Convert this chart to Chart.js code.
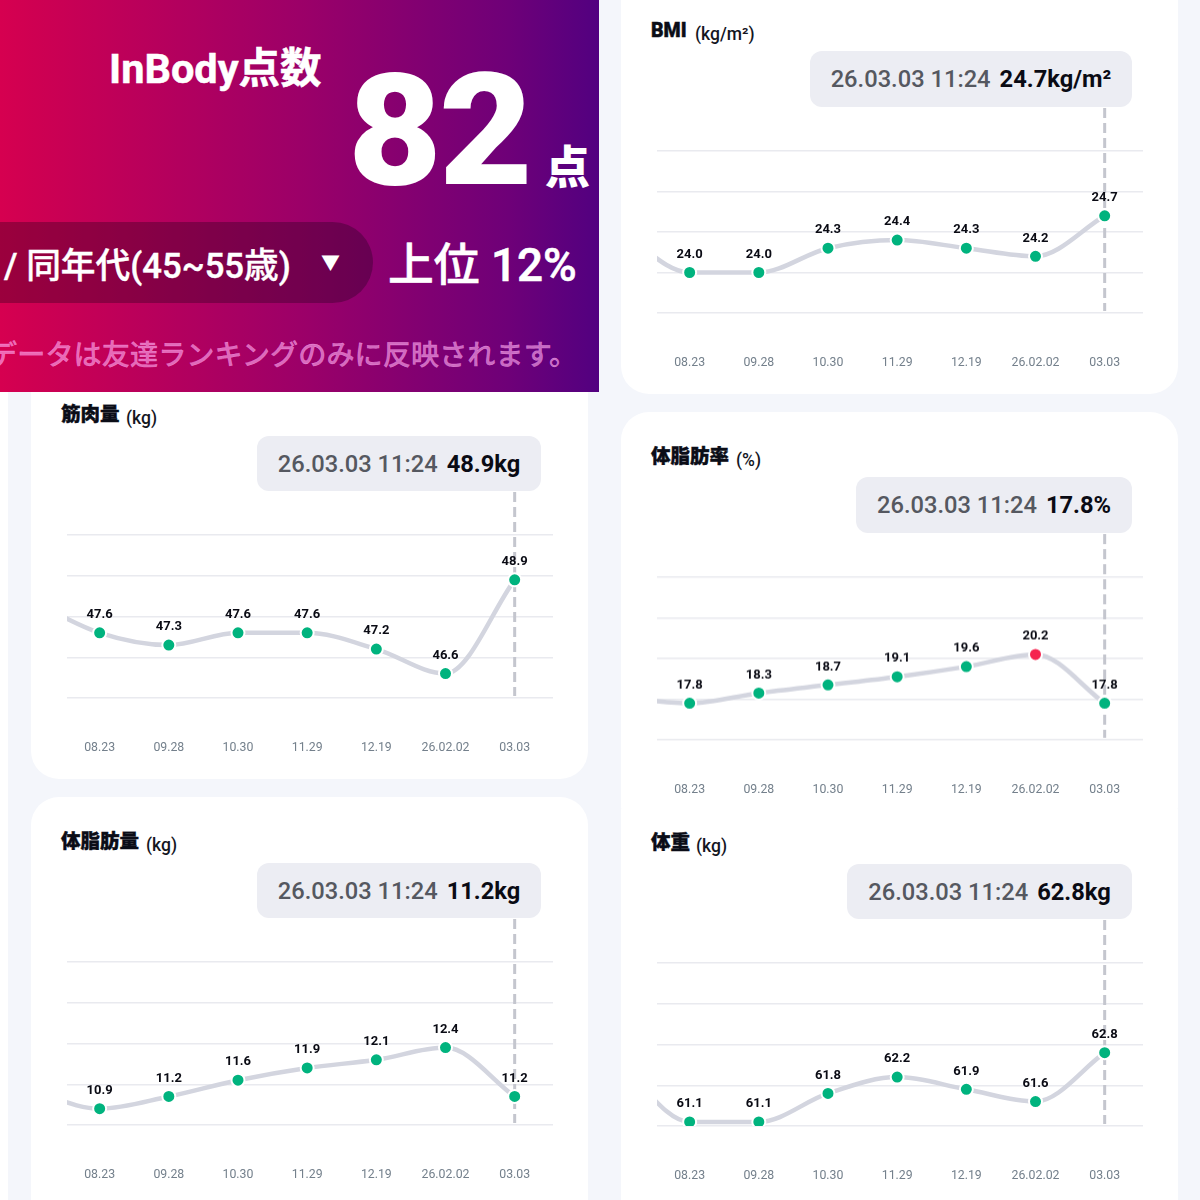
<!DOCTYPE html>
<html lang="ja"><head><meta charset="utf-8">
<script src="https://cdn.jsdelivr.net/npm/chart.js@4"></script>
<style>
html,body{margin:0;padding:0;background:#fff}
body{width:1200px;height:1200px;overflow:hidden;position:relative;font-family:Roboto,"Noto Sans CJK JP",sans-serif}
#bg{position:absolute;left:8px;top:0;width:1192px;height:1200px;background:#f4f6fb}
.card{position:absolute;background:#fff;border-radius:28px}
.t{position:absolute;white-space:nowrap;line-height:1}
#banner{position:absolute;left:0;top:0;width:599px;height:392px;background:linear-gradient(90deg,#d60050 0%,#ce0052 6%,#9c0068 50%,#6e0078 85%,#520080 100%);overflow:hidden;color:#fff;font-family:Roboto,"Noto Sans CJK JP",sans-serif}
#pill{position:absolute;left:-100px;top:222px;width:473px;height:81px;border-radius:41px;background:rgba(20,0,20,.3)}
.title{font-weight:900;font-size:19.5px;color:#0b0d17;-webkit-text-stroke:.4px #0b0d17}
.unit{font-weight:500;font-size:17.5px;color:#14161f}
.tip{position:absolute;background:#ecedf3;border-radius:12px;display:flex;align-items:center;justify-content:center;font-size:23.7px;gap:9px;white-space:nowrap}
.tip .d{color:#555860;font-weight:500}
.tip .v{color:#0a0b14;font-weight:700}
canvas{position:absolute}
</style></head><body>
<div id="bg"></div>
<div class="card" style="left:621px;top:-40px;width:557px;height:434px"></div>
<div class="card" style="left:31px;top:340px;width:557px;height:439px"></div>
<div class="card" style="left:621px;top:412px;width:557px;height:396px;border-radius:28px 28px 0 0"></div>
<div class="card" style="left:31px;top:797px;width:557px;height:450px"></div>
<div class="card" style="left:621px;top:804px;width:557px;height:450px;border-radius:6px 6px 0 0"></div>

<div id="banner">
  <div class="t" style="left:109px;top:48px;font-size:41.5px;font-weight:700;-webkit-text-stroke:.5px #fff">InBody点数</div>
  <div class="t" style="left:348px;top:50px;font-size:162px;font-weight:900;letter-spacing:-3px;transform:scaleY(.96);transform-origin:0 80px">82</div>
  <div class="t" style="left:545px;top:146px;font-size:45px;font-weight:900">点</div>
  <div id="pill"></div>
  <div class="t" style="left:4px;top:249px;font-size:34.7px;font-weight:500;-webkit-text-stroke:.4px #fff">/ 同年代(45~55歳)</div>
  <div class="t" style="left:321px;top:254px;font-size:19px;font-weight:500">▼</div>
  <div class="t" style="left:388px;top:243px;font-size:45.8px;font-weight:500;-webkit-text-stroke:.6px #fff">上位 12%</div>
  <div class="t" style="left:-11px;top:342px;font-size:28.2px;font-weight:500;color:rgba(255,170,240,.65);-webkit-text-stroke:.3px rgba(255,170,240,.65)">データは友達ランキングのみに反映されます。</div>
</div>

<div class="t title" style="left:651px;top:21px">BMI</div><div class="t unit" style="left:695px;top:26px">(kg/m²)</div>
<div class="t title" style="left:61px;top:405px">筋肉量</div><div class="t unit" style="left:126px;top:410px">(kg)</div>
<div class="t title" style="left:651px;top:447px">体脂肪率</div><div class="t unit" style="left:736px;top:452px">(%)</div>
<div class="t title" style="left:61px;top:832px">体脂肪量</div><div class="t unit" style="left:146px;top:837px">(kg)</div>
<div class="t title" style="left:651px;top:833px">体重</div><div class="t unit" style="left:696px;top:838px">(kg)</div>

<div class="tip" style="left:810px;top:51px;width:322px;height:56px"><span class="d">26.03.03 11:24</span><span class="v">24.7kg/m²</span></div>
<div class="tip" style="left:257px;top:436px;width:284px;height:55px"><span class="d">26.03.03 11:24</span><span class="v">48.9kg</span></div>
<div class="tip" style="left:856px;top:477px;width:276px;height:56px"><span class="d">26.03.03 11:24</span><span class="v">17.8%</span></div>
<div class="tip" style="left:257px;top:863px;width:284px;height:55px"><span class="d">26.03.03 11:24</span><span class="v">11.2kg</span></div>
<div class="tip" style="left:847px;top:864px;width:285px;height:55px"><span class="d">26.03.03 11:24</span><span class="v">62.8kg</span></div>

<canvas id="cBmi"></canvas><canvas id="cMuscle"></canvas><canvas id="cPct"></canvas><canvas id="cMass"></canvas><canvas id="cWeight"></canvas>
<script>
const categories = ['08.23','09.28','10.30','11.29','12.19','26.02.02','03.03'];

const bmiValues    = [24.0,24.0,24.3,24.4,24.3,24.2,24.7];
const muscleValues = [47.6,47.3,47.6,47.6,47.2,46.6,48.9];
const pctValues    = [17.8,18.3,18.7,19.1,19.6,20.2,17.8];
const massValues   = [10.9,11.2,11.6,11.9,12.1,12.4,11.2];
const weightValues = [61.1,61.1,61.8,62.2,61.9,61.6,62.8];

// the measurement before 08.23, scrolled out of view: only its line segment shows
const bmiEarlier = 24.5, muscleEarlier = 48.4, pctEarlier = 18.1, massEarlier = 11.35, weightEarlier = 62.5;

const bmiTicks    = [23.5,24,24.5,25,25.5];
const muscleTicks = [46,47,48,49,50];
const pctTicks    = [16,18,20,22,24];
const massTicks   = [10.5,11.5,12.5,13.5,14.5];
const weightTicks = [61,62,63,64,65];

const GREEN='#00b37e', RED='#f5234f', LINE='#d3d5df', GRID='#e9eaef', DASH='#c4c6ce', TICK='#74808c';
const xMin=-0.472, xMax=6.554;

function makeChart(id,left,gridTop,gridBottom,values,earlier,ticks,redIndex){
  const canvas=document.getElementById(id);
  const H=gridBottom-gridTop+120, W=557;
  canvas.width=W;canvas.height=H;
  canvas.style.cssText=`left:${left}px;top:${gridTop-60}px;width:${W}px;height:${H}px`;
  const points=[{x:-1,y:earlier},...values.map((y,x)=>({x,y}))];
  const overlay={
    id:'overlay',
    beforeDatasetsDraw(c){
      const x=c.scales.x.getPixelForValue(values.length-1), ctx=c.ctx;
      ctx.save();ctx.strokeStyle=DASH;ctx.lineWidth=3;ctx.setLineDash([10,5]);
      ctx.beginPath();ctx.moveTo(x,c.chartArea.top-43);ctx.lineTo(x,c.chartArea.bottom-2);ctx.stroke();ctx.restore();
    },
    afterDatasetsDraw(c){
      const ctx=c.ctx;ctx.save();ctx.font='700 13px Roboto';ctx.fillStyle='#0a0b14';ctx.textAlign='center';ctx.textBaseline='middle';
      values.forEach((v,i)=>ctx.fillText(v.toFixed(1),c.scales.x.getPixelForValue(i),c.scales.y.getPixelForValue(v)-18));
      ctx.restore();
    }
  };
  return new Chart(canvas,{
    type:'line',
    data:{datasets:[{
      data:points,borderColor:LINE,borderWidth:4.5,cubicInterpolationMode:'monotone',fill:false,
      pointRadius:ctx=>ctx.dataIndex===0?0:6.5,
      pointBorderWidth:2,pointBorderColor:'#fff',
      pointBackgroundColor:ctx=>ctx.dataIndex-1===redIndex?RED:GREEN
    }]},
    plugins:[overlay],
    options:{
      responsive:false,animation:false,devicePixelRatio:1,
      layout:{padding:{left:36,right:35,top:60,bottom:0}},
      plugins:{legend:{display:false},tooltip:{enabled:false}},
      scales:{
        x:{type:'linear',min:xMin,max:xMax,
          afterBuildTicks:s=>{s.ticks=categories.map((_,i)=>({value:i}));},
          afterFit:s=>{s.height=60;},
          grid:{display:false},border:{display:false},
          ticks:{autoSkip:false,maxRotation:0,padding:35,color:TICK,font:{family:'Roboto',size:12.3},
            callback:v=>categories[v]}},
        y:{type:'linear',min:ticks[0],max:ticks[ticks.length-1],
          afterBuildTicks:s=>{s.ticks=ticks.map(value=>({value}));},
          afterFit:s=>{s.width=0;},
          border:{display:false},
          grid:{color:GRID,lineWidth:1.5,drawTicks:false},
          ticks:{display:false}}
      }
    }
  });
}
makeChart('cBmi',621,150.5,313,bmiValues,bmiEarlier,bmiTicks,-1);
makeChart('cMuscle',31,535,698,muscleValues,muscleEarlier,muscleTicks,-1);
makeChart('cPct',621,577,739.5,pctValues,pctEarlier,pctTicks,5);
makeChart('cMass',31,962,1125,massValues,massEarlier,massTicks,-1);
makeChart('cWeight',621,963,1126,weightValues,weightEarlier,weightTicks,-1);
</script>
</body></html>
